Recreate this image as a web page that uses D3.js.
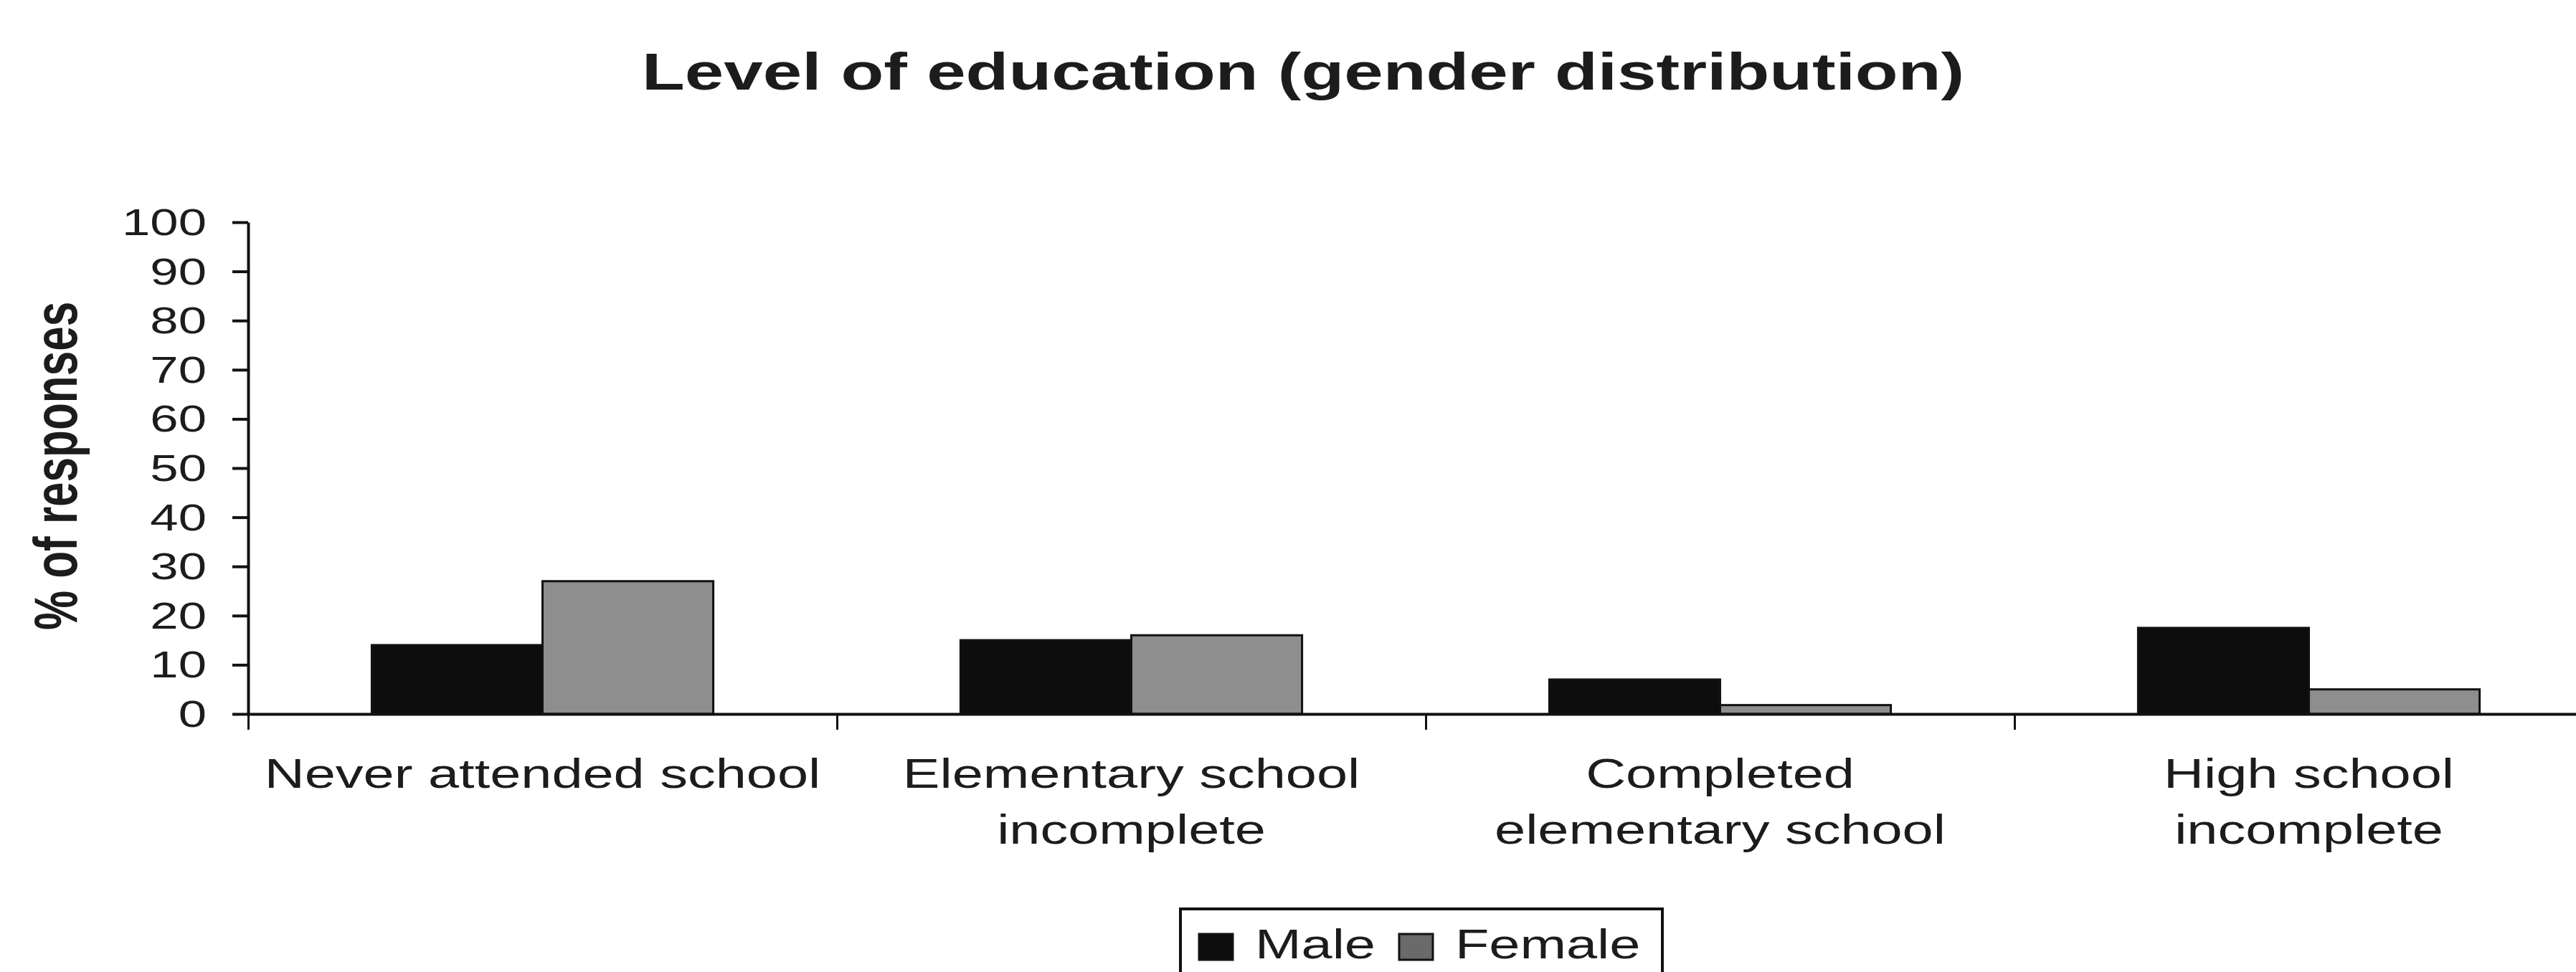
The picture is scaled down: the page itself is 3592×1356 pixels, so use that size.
<!DOCTYPE html>
<html>
<head>
<meta charset="utf-8">
<script src="https://cdn.jsdelivr.net/npm/d3@7"></script>
<style>
  html, body { margin: 0; padding: 0; background: #fff; overflow: hidden; }
  svg { display: block; font-family: "Liberation Sans", Arial, sans-serif; }
</style>
</head>
<body>
<svg id="chart" width="3592" height="1356"></svg>
<script>
// data
const categories = [
  'Never attended school',
  'Elementary school incomplete',
  'Completed elementary school',
  'High school incomplete'
]
const categoryLines = [
  ['Never attended school'],
  ['Elementary school', 'incomplete'],
  ['Completed', 'elementary school'],
  ['High school', 'incomplete']
]
const series = ['Male', 'Female']
const maleValues = [14, 15, 7, 17.5]
const femaleValues = [27, 16, 1.8, 5]
const yTicks = [0, 10, 20, 30, 40, 50, 60, 70, 80, 90, 100]

const colors = { Male: '#0d0d0d', Female: '#8e8e8e' }
const SX = 1.36 // the scanned chart is stretched sideways

const svg = d3.select('#chart')
const ink = '#1c1c1c'

const x = d3.scaleBand()
  .domain(categories)
  .range([346, 3630])
  .paddingInner(0.42)
  .paddingOuter(0.21)

const xSub = d3.scaleBand()
  .domain(series)
  .range([0, x.bandwidth()])

const y = d3.scaleLinear()
  .domain([0, 100])
  .range([996, 310])

const valuesBySeries = { Male: maleValues, Female: femaleValues }

// stretched text helper
function stretchedText(sel, px, py, str, opts) {
  const t = sel.append('text')
    .attr('transform', `translate(${px},${py}) scale(${SX},1)` + (opts.rotate ? ` rotate(${opts.rotate})` : ''))
    .attr('text-anchor', opts.anchor || 'start')
    .attr('font-size', opts.size)
    .attr('font-weight', opts.weight || 'normal')
    .attr('fill', ink)
    .text(str)
  return t
}

// title
stretchedText(svg, 1817, 125, 'Level of education (gender distribution)', { anchor: 'middle', size: 72, weight: 'bold' })

// y label
stretchedText(svg, 107, 650, '% of responses', { anchor: 'middle', size: 62, weight: 'bold', rotate: -90 })

// bars
const groups = svg.append('g').selectAll('g')
  .data(categories)
  .join('g')
  .attr('transform', d => `translate(${x(d)},0)`)

groups.selectAll('rect')
  .data((d, i) => series.map(s => ({ s, v: valuesBySeries[s][i] })))
  .join('rect')
  .attr('x', d => xSub(d.s))
  .attr('width', xSub.bandwidth())
  .attr('y', d => y(d.v))
  .attr('height', d => y(0) - y(d.v))
  .attr('fill', d => colors[d.s])
  .attr('stroke', '#111')
  .attr('stroke-width', 3)

// y axis
const yAxis = svg.append('g')
  .attr('transform', `translate(${x.range()[0]},0)`)
  .call(d3.axisLeft(y).tickValues(yTicks).tickSize(22).tickSizeOuter(0).tickFormat(() => ''))
yAxis.select('.domain').attr('stroke', '#111').attr('stroke-width', 4)
yAxis.selectAll('.tick line').attr('stroke', '#111').attr('stroke-width', 4)
yTicks.forEach(v => {
  stretchedText(svg, 288, y(v) + 18, String(v), { anchor: 'end', size: 52 })
})

// x axis with ticks on category boundaries
const xb = d3.scaleLinear().domain([0, categories.length]).range(x.range())
const xAxis = svg.append('g')
  .attr('transform', `translate(0,${y(0)})`)
  .call(d3.axisBottom(xb).tickValues(d3.range(categories.length + 1)).tickSize(22).tickSizeOuter(0).tickFormat(() => ''))
xAxis.select('.domain').attr('stroke', '#111').attr('stroke-width', 4)
xAxis.selectAll('.tick line').attr('stroke', '#111').attr('stroke-width', 3)

// category labels
categories.forEach((c, i) => {
  const cx = x(c) + x.bandwidth() / 2
  categoryLines[i].forEach((line, j) => {
    stretchedText(svg, cx, 1099 + j * 78, line, { anchor: 'middle', size: 57 })
  })
})

// legend
const legend = svg.append('g')
legend.append('rect')
  .attr('x', 1646).attr('y', 1268)
  .attr('width', 672).attr('height', 140)
  .attr('fill', '#fff')
  .attr('stroke', '#111')
  .attr('stroke-width', 4)
let cursor = 1672
series.forEach(s => {
  legend.append('rect')
    .attr('x', cursor).attr('y', 1303)
    .attr('width', 47).attr('height', 36)
    .attr('fill', s === 'Female' ? '#6a6a6a' : colors[s])
    .attr('stroke', '#111')
    .attr('stroke-width', 3)
  const t = stretchedText(legend, cursor + 78, 1337, s, { size: 57 })
  cursor += 78 + t.node().getComputedTextLength() * SX + 33
})
</script>
</body>
</html>
